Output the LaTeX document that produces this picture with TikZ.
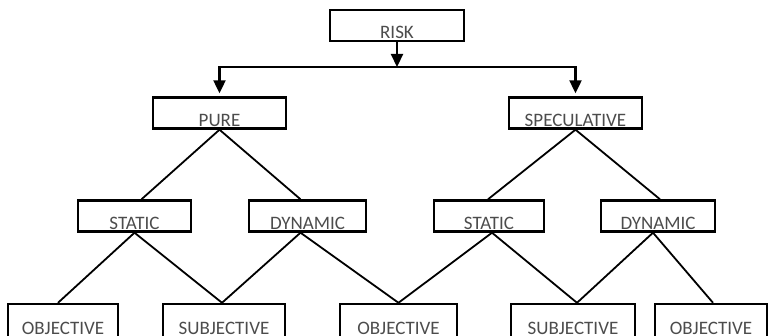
\documentclass[tikz,border=0pt]{standalone}
\usepackage{fontspec}
\setmainfont{Carlito}
\usetikzlibrary{arrows.meta, positioning}

\begin{document}
\begin{tikzpicture}[x=1pt, y=-1pt,
	box/.style={draw, rectangle, line width=2.4pt, inner xsep=0pt, inner ysep=0pt,
		text height=29pt, text depth=2pt, text=black!70,
		font=\fontsize{19}{19}\selectfont},
	lowbox/.style={box, text height=30pt, text depth=4pt}, % bottom row runs off the page
	link/.style={line width=1.8pt},
	branch/.style={line width=2.2pt},
	tip/.style={-{Triangle[length=13pt, width=12pt]}}
]

\useasboundingbox (0,0) rectangle (770,336);

% level 0
\node[box, minimum width=134pt] (risk) at (397, 25.5) {RISK};

% level 1
\node[box, minimum width=133pt] (pure) at (219.5, 113) {PURE};
\node[box, minimum width=133pt] (spec) at (575.5, 113) {SPECULATIVE};

% level 2
\node[box, minimum width=113pt] (st1) at (134.5, 216) {STATIC};
\node[box, minimum width=117pt] (dy1) at (307.5, 216) {DYNAMIC};
\node[box, minimum width=110pt] (st2) at (489, 216) {STATIC};
\node[box, minimum width=114pt] (dy2) at (658, 216) {DYNAMIC};

% level 3
\node[lowbox, minimum width=110pt] (ob1) at (63, 321) {OBJECTIVE};
\node[lowbox, minimum width=122pt] (su1) at (224, 321) {SUBJECTIVE};
\node[lowbox, minimum width=117pt] (ob2) at (398.5, 321) {OBJECTIVE};
\node[lowbox, minimum width=124pt] (su2) at (573, 321) {SUBJECTIVE};
\node[lowbox, minimum width=112pt] (ob3) at (711, 321) {OBJECTIVE};

% risk -> pure / speculative
\coordinate (split) at (397, 67);
\draw[branch, tip] (risk.south) -- (split);
\draw[branch, tip, shorten >=3pt] (split) -| (pure.north);
\draw[branch, tip, shorten >=3pt] (split) -| (spec.north);

% plain links, parent/shift/child/shift
\foreach \p/\ps/\c/\cs in {pure/0/st1/7, pure/0/dy1/-7, spec/0/st2/-1, spec/0/dy2/2,
		st1/0/ob1/-5, st1/0/su1/-2, dy1/-7/su1/-2, dy1/-7/ob2/0,
		st2/3/ob2/0, st2/3/su2/4, dy2/-5/su2/4, dy2/-5/ob3/2} {
	\draw[link] ([xshift=\ps pt]\p.south) -- ([xshift=\cs pt]\c.north);
}

\end{tikzpicture}
\end{document}
